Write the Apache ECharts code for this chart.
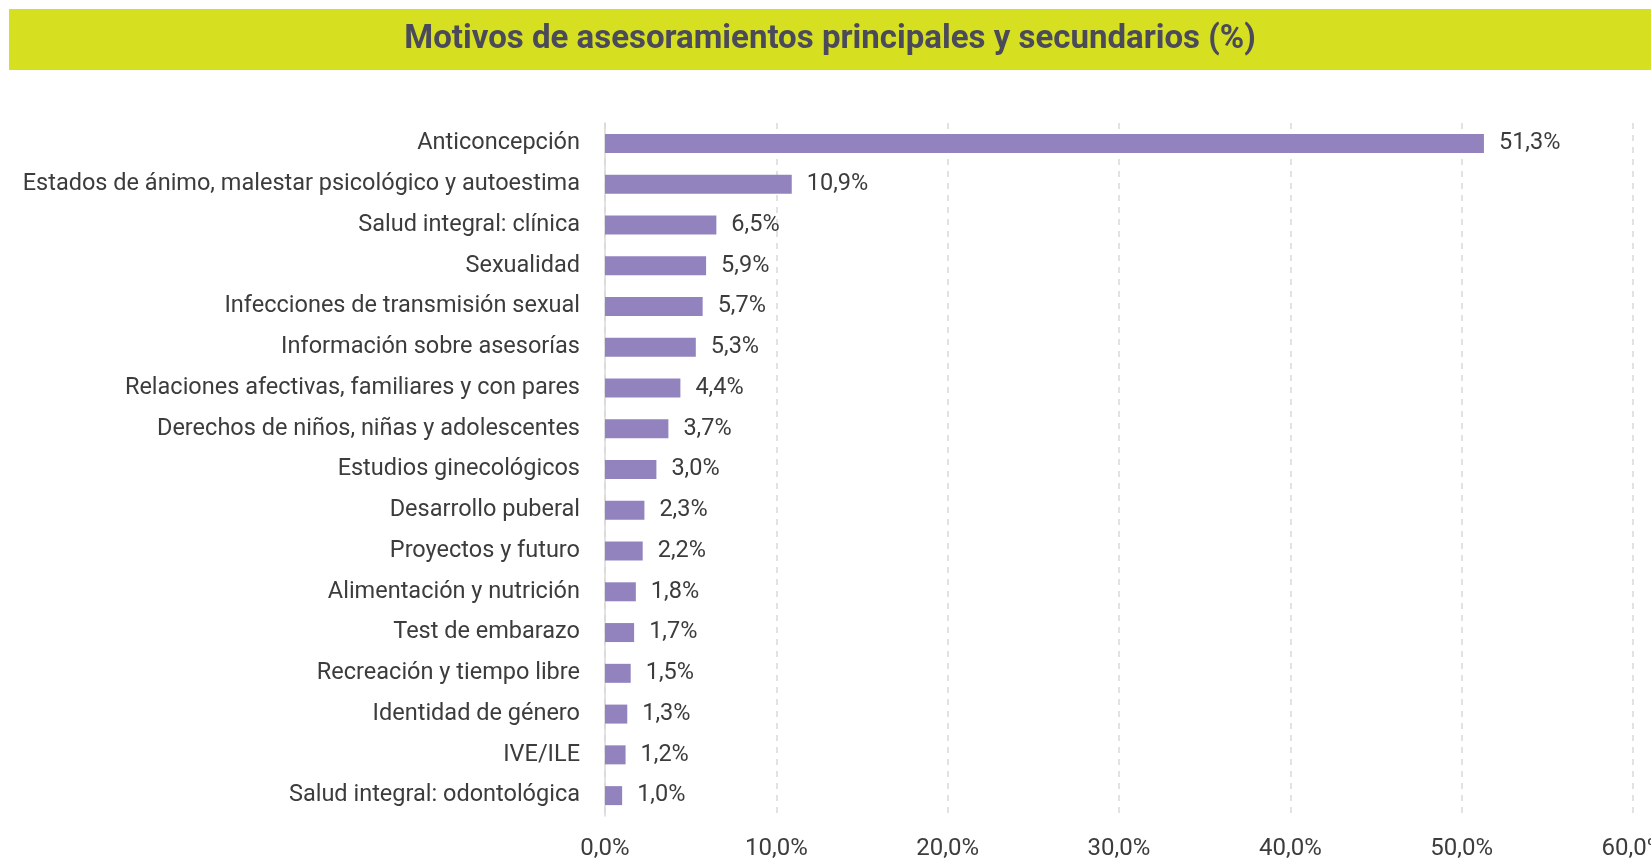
<!DOCTYPE html>
<html>
<head>
<meta charset="utf-8">
<title>Motivos de asesoramientos</title>
<script src="https://cdn.jsdelivr.net/npm/echarts@6/dist/echarts.min.js"></script>
<style>
  html, body { margin: 0; padding: 0; background: #fff; }
  #chart { width: 1651px; height: 859px; }
</style>
</head>
<body>
<div id="chart"></div>
<script>
// datos, de arriba hacia abajo
const categories = [
  "Anticoncepción",
  "Estados de ánimo, malestar psicológico y autoestima",
  "Salud integral: clínica",
  "Sexualidad",
  "Infecciones de transmisión sexual",
  "Información sobre asesorías",
  "Relaciones afectivas, familiares y con pares",
  "Derechos de niños, niñas y adolescentes",
  "Estudios ginecológicos",
  "Desarrollo puberal",
  "Proyectos y futuro",
  "Alimentación y nutrición",
  "Test de embarazo",
  "Recreación y tiempo libre",
  "Identidad de género",
  "IVE/ILE",
  "Salud integral: odontológica"
];
const values = [51.3, 10.9, 6.5, 5.9, 5.7, 5.3, 4.4, 3.7, 3.0, 2.3, 2.2, 1.8, 1.7, 1.5, 1.3, 1.2, 1.0];
const xTicks = [0, 10, 20, 30, 40, 50, 60];

const fmt = v => v.toFixed(1).replace(".", ",") + "%";
const font = "Roboto";

const chart = echarts.init(document.getElementById("chart"));
chart.setOption({
  backgroundColor: "#ffffff",
  animation: false,
  textStyle: { fontFamily: font },
  graphic: [
    {
      type: "rect",
      shape: { x: 9, y: 9, width: 1642, height: 61 },
      style: { fill: "#d6e021" },
      z: 0
    },
    {
      type: "text",
      x: 830,
      y: 40,
      style: {
        text: "Motivos de asesoramientos principales y secundarios (%)",
        fill: "#4a4a5a",
        font: "bold 33px " + font,
        textAlign: "center",
        textVerticalAlign: "middle"
      },
      z: 1
    }
  ],
  grid: {
    left: 605,
    right: 18,
    top: 123,
    bottom: 43,
    containLabel: false,
    outerBoundsMode: "none"
  },
  xAxis: {
    type: "value",
    min: xTicks[0],
    max: xTicks[xTicks.length - 1],
    interval: 10,
    axisLine: { show: false },
    axisTick: { show: false },
    splitLine: {
      show: true,
      lineStyle: { color: "#d9d9d9", type: [6, 6], width: 1.5 }
    },
    axisLabel: {
      color: "#3c3c3c",
      fontSize: 24,
      margin: 21,
      formatter: v => fmt(v)
    }
  },
  yAxis: {
    type: "category",
    inverse: true,
    data: categories,
    axisLine: { show: true, lineStyle: { color: "#d9d9d9", width: 1.5 } },
    axisTick: { show: false },
    axisLabel: {
      color: "#3c3c3c",
      fontSize: 23.5,
      margin: 25
    }
  },
  series: [
    {
      type: "bar",
      data: values,
      barWidth: 19,
      itemStyle: { color: "#9283bf" },
      label: {
        show: true,
        position: "right",
        distance: 15,
        color: "#3c3c3c",
        fontSize: 23.5,
        formatter: p => fmt(p.value)
      }
    }
  ]
});
window.addEventListener("resize", () => chart.resize());
</script>
</body>
</html>
